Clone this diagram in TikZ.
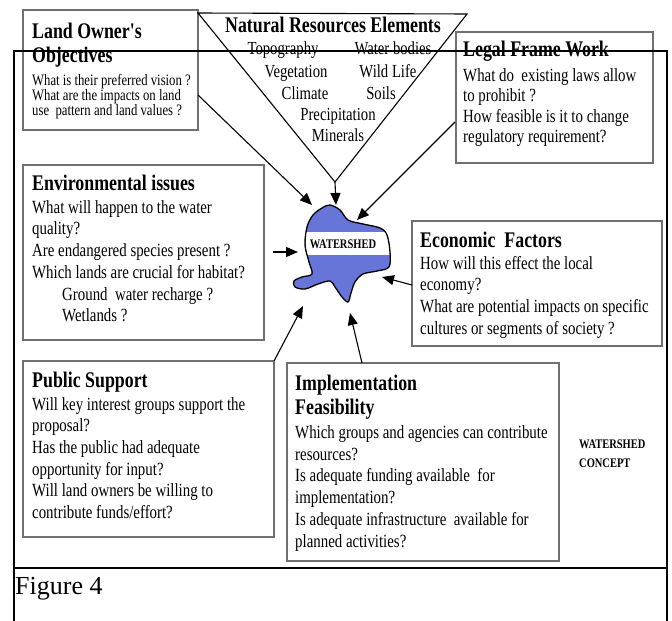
\documentclass[tikz,border=0pt]{standalone}
\usepackage{fontspec}
\setmainfont{Liberation Serif}[FakeStretch=0.8]
\newfontfamily\captionserif{Liberation Serif}
\usetikzlibrary{arrows.meta}
\definecolor{lake}{RGB}{104,117,216}
\definecolor{boxline}{RGB}{112,112,112}
% gives the first line of a text block a fixed height of 24bp,
% so a block placed at y has its first baseline at y+24
\newcommand\firstline{\rule{0pt}{24bp}}
% typewriter-style apostrophe
\newcommand\tick{{\addfontfeatures{Ligatures=TeXOff}'}}
\begin{document}
\begin{tikzpicture}[x=1bp,y=-1bp,
  panel/.style={draw=boxline,line width=1.1bp,inner sep=0pt,outer sep=0pt,anchor=north west},
  hd/.style={font=\fontsize{22.3bp}{24.4bp}\selectfont\bfseries,inner sep=0pt,anchor=north west,align=left},
  hdline/.style={font=\fontsize{22.3bp}{24.4bp}\selectfont\bfseries,inner sep=0pt,anchor=base west},
  bd/.style={font=\fontsize{18.6bp}{21.7bp}\selectfont,inner sep=0pt,anchor=north west,align=left},
  small/.style={font=\fontsize{15.9bp}{15bp}\selectfont,inner sep=0pt,anchor=north west,align=left},
  item/.style={font=\fontsize{18.4bp}{21bp}\selectfont,inner sep=0pt,anchor=base},
  tag/.style={font=\fontsize{13.1bp}{19bp}\selectfont\bfseries,inner sep=0pt},
  arr/.style={line width=1.1bp,-{Triangle[length=12bp,width=10bp]}},
  frameline/.style={line width=2.4bp,black,line join=miter}]
\useasboundingbox (0,0) rectangle (672,621);

% ---- boxes ----
\node[panel,minimum width=175bp,minimum height=120bp] (lo) at (23,10) {};
\node[panel,minimum width=197bp,minimum height=131bp] (legal) at (456,32) {};
\node[panel,minimum width=241bp,minimum height=175bp] (env) at (23,165) {};
\node[panel,minimum width=250bp,minimum height=125bp] (econ) at (412,221) {};
\node[panel,minimum width=251bp,minimum height=176bp] (pub) at (23,361) {};
\node[panel,minimum width=272bp,minimum height=198bp] (impl) at (287,363) {};

% ---- natural resources funnel ----
\draw[line width=1.1bp] (198,13) coordinate (nr-l) -- (467,14) coordinate (nr-r)
  -- (335,182) coordinate (nr-tip) -- cycle;

% ---- land owner ----
\node[hd] (lo-h) at (32,14.3) {\firstline Land Owner\tick s\\Objectives};
\node[small] (lo-b) at (32,61) {\firstline What is their preferred vision ?\\What are the impacts on land\\use\ \ pattern and land values ?};

% ---- natural resources ----
\node[hdline,anchor=base] (nr-h) at (333,33) {Natural Resources Elements};
\node[item] (nr-1) at (283,55) {Topography};
\node[item] (nr-2) at (393,55) {Water bodies};
\node[item] (nr-3) at (296,78) {Vegetation};
\node[item] (nr-4) at (388,78) {Wild Life};
\node[item] (nr-5) at (305,100) {Climate};
\node[item] (nr-6) at (381,100) {Soils};
\node[item] (nr-7) at (338,121) {Precipitation};
\node[item] (nr-8) at (338,142) {Minerals};

% ---- legal ----
\node[hdline] (legal-h) at (463,57) {Legal Frame Work};
\node[bd,font=\fontsize{18.6bp}{20.5bp}\selectfont] (legal-b) at (463,57)
  {\firstline What do\ \ existing laws allow\\to prohibit ?\\How feasible is it to change\\regulatory requirement?};

% ---- environment ----
\node[hdline] (env-h) at (32,191) {Environmental issues};
\node[bd] (env-b) at (32,189) {\firstline What will happen to the water\\quality?\\Are endangered species present ?\\Which lands are crucial for habitat?\\\hspace*{30bp}Ground\ \ water recharge ?\\\hspace*{30bp}Wetlands ?};

% ---- economy ----
\node[hdline] (econ-h) at (420,247) {Economic\ \ Factors};
\node[bd] (econ-b) at (420,245) {\firstline How will this effect the local\\economy?\\What are potential impacts on specific\\cultures or segments of society ?};

% ---- public support ----
\node[hdline] (pub-h) at (32,387) {Public Support};
\node[bd,font=\fontsize{18.6bp}{21.6bp}\selectfont] (pub-b) at (32,386) {\firstline Will key interest groups support the\\proposal?\\Has the public had adequate\\opportunity for input?\\Will land owners be willing to\\contribute funds/effort?};

% ---- implementation ----
\node[hd,font=\fontsize{22.3bp}{24bp}\selectfont\bfseries] (impl-h) at (295,366) {\firstline Implementation\\Feasibility};
\node[bd,font=\fontsize{18.6bp}{21.8bp}\selectfont] (impl-b) at (295,414) {\firstline Which groups and agencies can contribute\\resources?\\Is adequate funding available\ \ for\\implementation?\\Is adequate infrastructure\ \ available for\\planned activities?};

% ---- concept tag ----
\node[tag,anchor=north west,align=left] (concept) at (579,424) {\firstline WATERSHED\\CONCEPT};

% ---- watershed ----
\def\shore{(330,205) (340,210) (348,220) (363,224) (380,228) (387,235) (390,252) (389,267)
  (377,271) (363,274) (355,282) (351,293) (348,302) (342,297) (335,287) (330,281)
  (318,284) (305,289) (295,287) (294,281) (302,277) (312,274) (309,262) (305,245)
  (307,227) (313,215) (322,208)}
\fill[lake] plot[smooth cycle,tension=0.55] coordinates {\shore};
\fill[white] (306,232) rectangle (390,255);
\draw[line width=1.3bp] plot[smooth cycle,tension=0.55] coordinates {\shore};
\node[tag,anchor=base] (ws) at (343,248) {WATERSHED};

% ---- arrows into the watershed ----
\coordinate (lo-out) at (198,95);
\coordinate (ws-a) at (312,205);
\coordinate (ws-b) at (336,205);
\coordinate (legal-out) at (455,122);
\coordinate (ws-c) at (357,220);
\coordinate (env-out) at (273,252);
\coordinate (ws-d) at (298,252);
\coordinate (econ-out) at (412,285);
\coordinate (ws-e) at (382,277);
\coordinate (pub-out) at (274,361);
\coordinate (ws-f) at (303,306);
\coordinate (impl-out) at (362,363);
\coordinate (ws-g) at (350,313);
\draw[arr] (lo-out) -- (ws-a);
\draw[arr] (nr-tip) -- (ws-b);
\draw[arr] (legal-out) -- (ws-c);
\draw[arr] (env-out) -- (ws-d);
\draw[arr] (econ-out) -- (ws-e);
\draw[arr] (pub-out) -- (ws-f);
\draw[arr] (impl-out) -- (ws-g);

% ---- frame and caption ----
\draw[frameline] (14,621) -- (14,51) -- (667,51) -- (667,621);
\draw[frameline] (14,568) -- (667,568);
\node[inner sep=0pt,anchor=base west,font=\captionserif\fontsize{26bp}{30bp}\selectfont] (fig) at (15,594) {Figure 4};
\end{tikzpicture}
\end{document}
